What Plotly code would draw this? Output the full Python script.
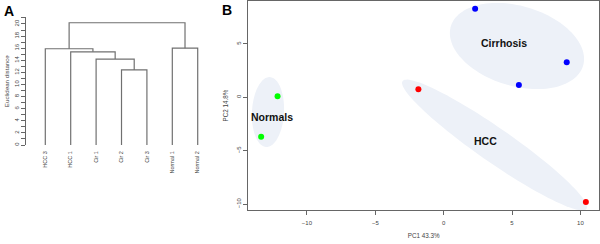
import numpy as np
import plotly.graph_objects as go

# ---------------- Data ----------------
# Panel A: hierarchical clustering (R hclust-style merge table)
leaf_labels = ["HCC 3", "HCC 1", "Cir 1", "Cir 2", "Cir 3", "Normal 1", "Normal 2"]
merge_left = [-4, -3, -2, -1, -6, 4]
merge_right = [-5, 1, 2, 3, -7, 5]
merge_height = [12.4, 14.2, 15.4, 15.9, 16.0, 20.2]

# Panel B: PCA scores
groups = ["Cirrhosis", "HCC", "Normals"]
group_colors = {"Cirrhosis": "#0000FF", "HCC": "#FF0000", "Normals": "#00FF00"}
pc1_cirrhosis = [2.3, 9.0, 5.5]
pc2_cirrhosis = [8.3, 3.3, 1.15]
pc1_hcc = [-1.85, 10.4]
pc2_hcc = [0.75, -9.8]
pc1_normals = [-12.15, -13.35]
pc2_normals = [0.1, -3.7]

# ---------------- Layout geometry ----------------
W, H = 600, 244
A_xdom = [26 / W, 210 / W]
A_ydom = [1 - 145 / H, 1 - 17.3 / H]
A_xrange = [0.24, 7.484]
A_yrange = [0, 21.1]
B_xdom = [248.3 / W, 599 / W]
B_ydom = [1 - 210 / H, 1 - 1 / H]
B_xrange = [-14.29, 11.36]
B_yrange = [-10.56, 9.03]

LINE = "#666666"
TXT = "#444444"
FONT = "Liberation Sans, Arial, sans-serif"

fig = go.Figure()

# ---------------- Dendrogram ----------------
node_x = {}
node_h = {}
def pos(ref):
    if ref < 0:
        return float(-ref), 0.0
    return node_x[ref], node_h[ref]

xs, ys = [], []
for i, (l, r, h) in enumerate(zip(merge_left, merge_right, merge_height), start=1):
    xl, hl = pos(l)
    xr, hr = pos(r)
    xs += [xl, xl, xr, xr, None]
    ys += [hl, h, h, hr, None]
    node_x[i] = (xl + xr) / 2
    node_h[i] = h

fig.add_trace(go.Scatter(x=xs, y=ys, mode="lines", xaxis="x", yaxis="y",
                         line=dict(color="#707070", width=1.2), cliponaxis=False,
                         hoverinfo="skip", showlegend=False))

# ---------------- PCA ellipses ----------------
sx = (B_xdom[1] - B_xdom[0]) * W / (B_xrange[1] - B_xrange[0])
sy = (B_ydom[1] - B_ydom[0]) * H / (B_yrange[1] - B_yrange[0])

# name: (center x, center y, semi-major px, semi-minor px, angle deg clockwise on screen)
ellipses = {
    "Cirrhosis": (5.36, 4.81, 69, 40, 16.6),
    "HCC": (3.72, -4.47, 112, 17, 34.8),
    "Normals": (-12.85, -1.38, 35, 16, -87),
}
t = np.linspace(0, 2 * np.pi, 120)
for name, (cx, cy, a, b, ang) in ellipses.items():
    th = np.radians(ang)
    dx = a * np.cos(t) * np.cos(th) - b * np.sin(t) * np.sin(th)
    dy = a * np.cos(t) * np.sin(th) + b * np.sin(t) * np.cos(th)
    ex = cx + dx / sx
    ey = cy - dy / sy
    path = "M " + " L ".join(f"{x:.4f},{y:.4f}" for x, y in zip(ex, ey)) + " Z"
    fig.add_shape(type="path", path=path, xref="x2", yref="y2",
                  fillcolor="#EDF1F8", line=dict(width=0), layer="below")

# ---------------- PCA points ----------------
pts = {"Cirrhosis": (pc1_cirrhosis, pc2_cirrhosis),
       "HCC": (pc1_hcc, pc2_hcc),
       "Normals": (pc1_normals, pc2_normals)}
for g in groups:
    px_, py_ = pts[g]
    fig.add_trace(go.Scatter(x=px_, y=py_, mode="markers", xaxis="x2", yaxis="y2",
                             marker=dict(color=group_colors[g], size=6, line=dict(width=0)),
                             cliponaxis=False, name=g, showlegend=False))

# group labels
label_pos = {"Cirrhosis": (4.41, 5.12), "HCC": (3.07, -4.07), "Normals": (-12.56, -1.82)}
for g, (lx, ly) in label_pos.items():
    fig.add_annotation(x=lx, y=ly, xref="x2", yref="y2", text=f"<b>{g}</b>",
                       showarrow=False, font=dict(family=FONT, size=10.5, color="#111111"))

# panel letters
fig.add_annotation(x=2 / W, y=1 - 1 / H, xref="paper", yref="paper", text="<b>A</b>",
                   showarrow=False, xanchor="left", yanchor="top",
                   font=dict(family=FONT, size=14, color="#000000"))
fig.add_annotation(x=220 / W, y=1 - 0 / H, xref="paper", yref="paper", text="<b>B</b>",
                   showarrow=False, xanchor="left", yanchor="top",
                   font=dict(family=FONT, size=14, color="#000000"))

tickfont = dict(family=FONT, size=6, color=TXT)

fig.update_layout(
    template="none",
    width=W, height=H, margin=dict(l=0, r=0, t=0, b=0, pad=0),
    paper_bgcolor="white", plot_bgcolor="white",
    font=dict(family=FONT, color=TXT),
    xaxis=dict(domain=A_xdom, range=A_xrange, anchor="y", automargin=False,
               showline=False, showgrid=False, zeroline=False,
               tickmode="array", tickvals=list(range(1, len(leaf_labels) + 1)),
               ticktext=leaf_labels, tickangle=-90, ticks="outside", ticklen=3,
               tickcolor="rgba(0,0,0,0)", tickfont=dict(family=FONT, size=5.5, color=TXT)),
    yaxis=dict(domain=A_ydom, range=A_yrange, anchor="x", automargin=False,
               showline=True, linecolor=LINE, linewidth=1,
               showgrid=False, zeroline=False,
               tick0=0, dtick=2, ticks="outside", ticklen=4, tickcolor=LINE,
               minor=dict(dtick=1, tick0=0, ticks="outside", ticklen=4, tickcolor=LINE, showgrid=False),
               tickangle=-90, tickfont=tickfont,
               title=dict(text="Euclidean distance", font=dict(family=FONT, size=6.2, color=TXT), standoff=3)),
    xaxis2=dict(domain=B_xdom, range=B_xrange, anchor="y2", automargin=False,
                showline=True, mirror=True, linecolor=LINE, linewidth=1,
                showgrid=False, zeroline=False,
                tickmode="array", tickvals=[-10, -5, 0, 5, 10],
                ticks="outside", ticklen=4, tickcolor=LINE, tickfont=tickfont,
                ticklabelstandoff=3,
                title=dict(text="PC1 43.3%", font=dict(family=FONT, size=6.3, color=TXT), standoff=8)),
    yaxis2=dict(domain=B_ydom, range=B_yrange, anchor="x2", automargin=False,
                showline=True, mirror=True, linecolor=LINE, linewidth=1,
                showgrid=False, zeroline=False,
                tickmode="array", tickvals=[-10, -5, 0, 5],
                ticks="outside", ticklen=4, tickcolor=LINE, tickfont=tickfont,
                tickangle=-90,
                title=dict(text="PC2 14.8%", font=dict(family=FONT, size=6.3, color=TXT), standoff=6)),
)

fig.write_html("out.html", config={"displayModeBar": False},
               post_script="document.body.style.margin='0';document.body.style.overflow='hidden';")
